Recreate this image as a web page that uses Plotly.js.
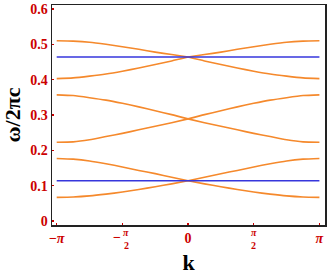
<!DOCTYPE html>
<html>
<head>
<meta charset="utf-8">
<script src="https://cdn.plot.ly/plotly-3.0.1.min.js"></script>
<style>html,body{margin:0;padding:0;background:#fff;}#chart{width:327px;height:279px;}</style>
</head>
<body>
<div id="chart"></div>
<script>
// k sample points (units of pi), left half; right half is the mirror image
const kPi = [-1, -0.875, -0.75, -0.625, -0.5, -0.375, -0.25, -0.125, 0];
// orange bands, omega/2pi c (k = -pi ... 0)
const band1 = [0.067, 0.068, 0.071, 0.076, 0.082, 0.089, 0.097, 0.105, 0.114];
const band2 = [0.177, 0.175, 0.170, 0.162, 0.153, 0.143, 0.134, 0.124, 0.114];
const band3 = [0.223, 0.224, 0.230, 0.239, 0.248, 0.258, 0.268, 0.278, 0.289];
const band4 = [0.357, 0.355, 0.349, 0.342, 0.333, 0.323, 0.312, 0.301, 0.289];
const band5 = [0.403, 0.405, 0.410, 0.416, 0.424, 0.433, 0.443, 0.453, 0.464];
const band6 = [0.510, 0.509, 0.506, 0.500, 0.493, 0.486, 0.478, 0.471, 0.464];
// flat (blue) bands
const flatK = [-1, 1];
const flat1 = [0.114, 0.114];
const flat2 = [0.464, 0.464];
// tick labels
const yTickVals = [0, 0.1, 0.2, 0.3, 0.4, 0.5, 0.6];
const yTickText = ['0', '0.1', '0.2', '0.3', '0.4', '0.5', '0.6'];
const xTickPi = [-1, -0.5, 0, 0.5, 1];
const xTickText = ['\u2212<i>\u03c0</i>', '', '0', '', '<i>\u03c0</i>'];
const fracPi = [-0.5, 0.5];
const fracSign = ['\u2212', ''];

const ORANGE = '#f5892c';
const BLUE = '#3636dc';
const RED = '#cc0000';
const serif = '"Liberation Serif", "Times New Roman", serif';

const traces = [];
const bands = [band1, band2, band3, band4, band5, band6];
const kLeft = kPi.map(v => v * Math.PI);
const kRight = kPi.slice().reverse().map(v => -v * Math.PI);
bands.forEach(b => {
  traces.push({x: kLeft, y: b, mode: 'lines', line: {color: ORANGE, width: 1.6, shape: 'spline', smoothing: 0.6}, hoverinfo: 'skip'});
  traces.push({x: kRight, y: b.slice().reverse(), mode: 'lines', line: {color: ORANGE, width: 1.6, shape: 'spline', smoothing: 0.6}, hoverinfo: 'skip'});
});
[flat1, flat2].forEach(f => {
  traces.push({x: flatK.map(v => v * Math.PI), y: f, mode: 'lines', line: {color: BLUE, width: 1.6}, hoverinfo: 'skip'});
});

const annotations = [];
fracPi.forEach((p, i) => {
  const xv = p * Math.PI;
  const dx = fracSign[i] ? 4 : 0;
  annotations.push({x: xv, y: 0, xref: 'x', yref: 'paper', text: '<i>\u03c0</i>', showarrow: false,
    xanchor: 'center', yanchor: 'middle', xshift: dx, yshift: -7, font: {family: serif, size: 10, color: RED, weight: 'bold'}});
  annotations.push({x: xv, y: 0, xref: 'x', yref: 'paper', text: '2', showarrow: false,
    xanchor: 'center', yanchor: 'middle', xshift: dx, yshift: -20, font: {family: serif, size: 10, color: RED, weight: 'bold'}});
  if (fracSign[i]) {
    annotations.push({x: xv, y: 0, xref: 'x', yref: 'paper', text: fracSign[i], showarrow: false,
      xanchor: 'center', yanchor: 'middle', xshift: -5, yshift: -12, font: {family: serif, size: 14, color: RED, weight: 'bold'}});
  }
});

const layout = {
  width: 327, height: 279,
  margin: {l: 52, r: 2, t: 5, b: 54},
  paper_bgcolor: '#fff', plot_bgcolor: '#fff',
  showlegend: false,
  annotations: annotations,
  xaxis: {
    range: [-3.254, 3.275], showgrid: false, zeroline: false,
    showline: true, mirror: true, linecolor: '#222', linewidth: 1.5,
    ticks: 'inside', ticklen: 2, tickcolor: RED, tickwidth: 1.5,
    tickvals: xTickPi.map(v => v * Math.PI), ticktext: xTickText,
    tickfont: {family: serif, size: 14, color: RED, weight: 'bold'},
    title: {text: '<b>k</b>', font: {family: serif, size: 22, color: '#000'}, standoff: 9}
  },
  yaxis: {
    range: [-0.0113, 0.6113], showgrid: false, zeroline: false,
    showline: true, mirror: true, linecolor: '#222', linewidth: 1.5,
    ticks: 'inside', ticklen: 2, tickcolor: RED, tickwidth: 1.5,
    tickvals: yTickVals, ticktext: yTickText,
    tickfont: {family: serif, size: 14, color: RED, weight: 'bold'},
    title: {text: '<b>\u03c9/2\u03c0c</b>', font: {family: serif, size: 22, color: '#000'}, standoff: 7}
  }
};
Plotly.newPlot('chart', traces, layout, {staticPlot: true, displayModeBar: false});
</script>
</body>
</html>
